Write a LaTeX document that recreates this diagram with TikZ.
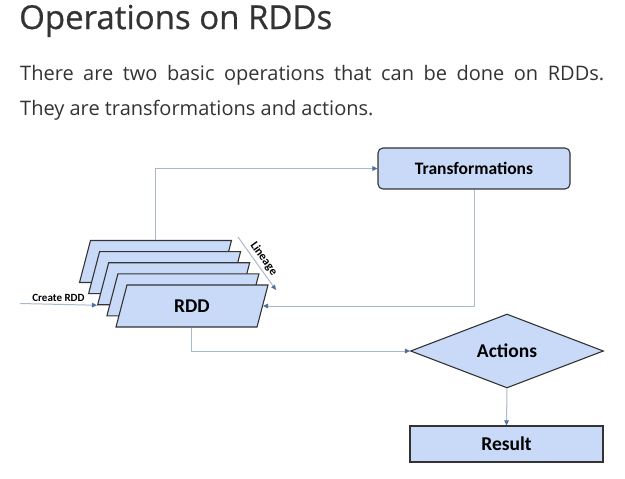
\documentclass[tikz,border=0pt]{standalone}
\usepackage{fontspec}
\setmainfont{Open Sans}
\newfontfamily\titlefont[FakeBold=0.6]{Open Sans}
\newfontfamily\diafont{Carlito}
\usetikzlibrary{shapes}
\usetikzlibrary{arrows.meta}
\definecolor{rddblue}{HTML}{C9DAF8}
\definecolor{edgegray}{HTML}{333333}
\definecolor{linkgray}{HTML}{AAB8CC}
\definecolor{tipblue}{HTML}{4E6E9E}
\definecolor{textgray}{HTML}{333333}

\tikzset{
	rdd/.style={draw=edgegray,line width=1.1pt,fill=rddblue,inner sep=0pt,minimum width=141pt,minimum height=42pt,
		xslant=0.262,transform shape},
	opbox/.style={draw=edgegray,line width=1.1pt,fill=rddblue,inner sep=0pt,font=\diafont\bfseries\fontsize{19.5}{22}\selectfont},
	link/.style={draw=linkgray,line width=1pt,-{Triangle[length=5pt,width=4.5pt,color=tipblue]}},
	small/.style={font=\diafont\bfseries\fontsize{11}{13}\selectfont,inner sep=1pt}
}

\begin{document}
\begin{tikzpicture}[x=1pt,y=-1pt]
	\useasboundingbox (0,0) rectangle (625,479);
	% heading and text
	\node[anchor=base west,inner sep=0pt,text=textgray,font=\titlefont\fontsize{33}{38}\selectfont] (title) at (19,29) {Operations on RDDs};
	\node[anchor=base west,inner sep=0pt,text width=584pt,align=justify,text=textgray,
		font=\fontsize{20}{35}\selectfont] (intro) at (20,81)
		{There are two basic operations that can be done on RDDs.\linebreak They are transformations and actions.};
	% stack of rdds, back to front
	\node[rdd] (p1) at (155.5,261.5) {};
	\node[rdd] (p2) at (164.6,272.6) {};
	\node[rdd] (p3) at (173.7,283.7) {};
	\node[rdd] (p4) at (182.9,294.9) {};
	\node[rdd] (p5) at (192,306) {};
	\node[font=\diafont\bfseries\fontsize{19.5}{22}\selectfont] (rddtext) at (p5.center) {RDD};
	% operations
	\node[opbox,rounded corners=5pt,minimum width=192pt,minimum height=41pt,font=\diafont\bfseries\fontsize{17.5}{20}\selectfont] (trans) at (474,168.5) {Transformations};
	\node[opbox,shape=diamond,minimum width=193pt,minimum height=66pt] (act) at (507,351) {Actions};
	\node[opbox,minimum width=193pt,minimum height=36pt] (res) at (506.5,444) {Result};
	% connectors
	\coordinate (crt) at (20,303.5);
	\coordinate (lin1) at (238,237);
	\coordinate (lin2) at (276,290);
	\draw[link] (crt) -- (p3.south west) node[small,midway,above=1pt] {Create RDD};
	\draw[link] (lin1) -- (lin2) node[small,midway,sloped,above=1.5pt,font=\diafont\bfseries\fontsize{12}{14}\selectfont] {Lineage};
	\draw[link] ([xshift=-5.5pt]p1.north) |- (trans.west);
	\draw[link] (trans.south) |- (p5.east);
	\draw[link] ([xshift=5.5pt]p5.south) |- (act.west);
	\draw[link] (act.south) -- (res.north);
\end{tikzpicture}
\end{document}
